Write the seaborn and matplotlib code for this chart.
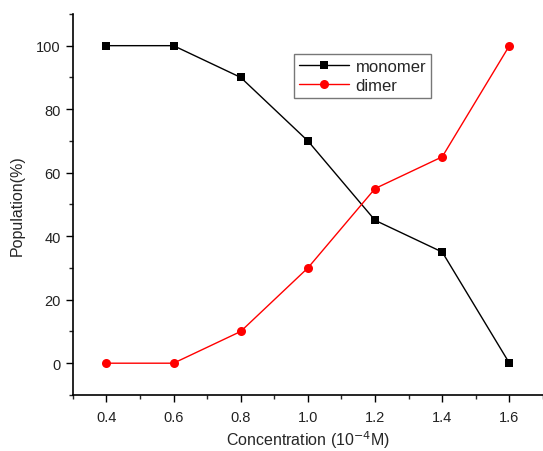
import matplotlib
matplotlib.use("Agg")
import matplotlib.pyplot as plt
from matplotlib.ticker import MultipleLocator
import seaborn as sns
import pandas as pd

concentration = [0.4, 0.6, 0.8, 1.0, 1.2, 1.4, 1.6]
monomer = [100, 100, 90, 70, 45, 35, 0]
dimer = [0, 0, 10, 30, 55, 65, 100]

sns.set_style("ticks")
plt.rcParams["font.family"] = ["Liberation Sans", "DejaVu Sans"]

df = pd.DataFrame({"conc": concentration, "monomer": monomer, "dimer": dimer})

fig = plt.figure(figsize=(5.43, 4.52), dpi=100)
ax = fig.add_axes([0.134, 0.124, 0.866, 0.843])

sns.lineplot(data=df, x="conc", y="monomer", ax=ax, color="black", lw=1.0,
             marker="s", markersize=6, markeredgewidth=0, label="monomer")
sns.lineplot(data=df, x="conc", y="dimer", ax=ax, color="red", lw=1.0,
             marker="o", markersize=6.5, markeredgewidth=0, label="dimer")

ax.set_xlim(0.3, 1.7)
ax.set_ylim(-10, 110)
ax.xaxis.set_major_locator(MultipleLocator(0.2))
ax.xaxis.set_minor_locator(MultipleLocator(0.1))
ax.yaxis.set_major_locator(MultipleLocator(20))
ax.yaxis.set_minor_locator(MultipleLocator(10))
ax.set_xticks([0.4, 0.6, 0.8, 1.0, 1.2, 1.4, 1.6])
ax.set_xticklabels(["0.4", "0.6", "0.8", "1.0", "1.2", "1.4", "1.6"])
ax.set_yticks([0, 20, 40, 60, 80, 100])

ax.tick_params(which="major", direction="out", length=5, width=1, labelsize=10.5,
               colors="black", labelcolor="#222222")
ax.tick_params(which="minor", direction="out", length=3, width=1)
ax.tick_params(axis="x", pad=6)

for side in ("top", "right"):
    ax.spines[side].set_visible(False)
for side in ("left", "bottom"):
    ax.spines[side].set_linewidth(1.2)
    ax.spines[side].set_color("black")

ax.set_xlabel("Concentration (10$^{-4}$M)", fontsize=11.5, labelpad=3)
ax.set_ylabel("Population(%)", fontsize=11.5, labelpad=8)

leg = ax.legend(loc="upper left", bbox_to_anchor=(0.47, 0.895), fontsize=12,
                frameon=True, fancybox=False, edgecolor="#555555",
                handlelength=3.0, borderpad=0.3, labelspacing=0.25,
                handletextpad=0.4, borderaxespad=0)
leg.get_frame().set_linewidth(1.0)

fig.savefig("out.png", dpi=100)
